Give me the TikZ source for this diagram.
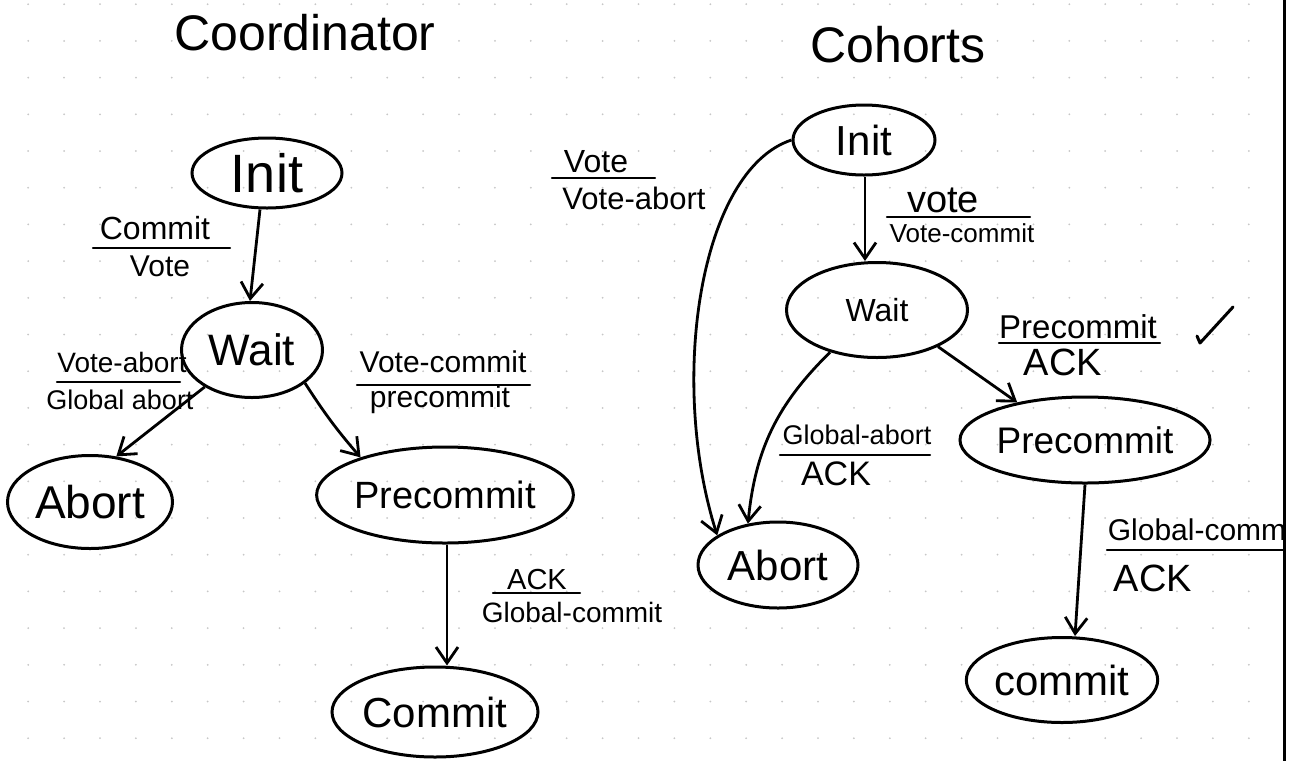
\documentclass[tikz,border=0pt]{standalone}
\usepackage{fontspec}
\setmainfont{Liberation Sans}
\usetikzlibrary{shapes.geometric,arrows.meta}
\newcommand{\setfs}[1]{\fontsize{#1pt}{#1pt}\selectfont}
\begin{document}
\begin{tikzpicture}[x=0.5pt,y=-0.5pt,
  state/.style={ellipse, draw, line width=1.5pt, inner sep=0pt},
  arr/.style={line width=1.4pt, -{Straight Barb[length=8pt,width=11pt,line width=1.4pt]}},
  lbl/.style={inner sep=0pt},
  bar/.style={line width=1.2pt, line cap=round},
  ttl/.style={inner sep=0pt, font=\setfs{25}},
  dot/.style={black!22}]
\useasboundingbox (0,0) rectangle (1300,761);
\fill[white] (0,0) rectangle (1300,761);
% paper dots
\foreach \i in {0,...,34} {\foreach \j in {0,...,20} {\fill[dot] (28.2+35.9*\i, 4.2+36.7*\j) circle (0.5pt);}}
% page edge
\draw[line width=1.5pt] (1284,0) -- (1284,761);

% titles
\node[ttl] (tCoord) at (305,33) {Coordinator};
\node[ttl] (tCoh) at (898,45) {Cohorts};

% coordinator states
\node[state, minimum width=75pt, minimum height=35pt, font=\setfs{27}] (cInit) at (267,173) {Init};
\node[state, minimum width=70.5pt, minimum height=47.5pt, font=\setfs{22}] (cWait) at (252,350) {Wait};
\node[state, minimum width=82.5pt, minimum height=46.5pt, font=\setfs{23}] (cAbort) at (90,502) {Abort};
\node[state, minimum width=118pt, minimum height=48pt, font=\setfs{19}] (cPre) at (445,495) {Precommit};
\node[state, minimum width=103pt, minimum height=45pt, font=\setfs{21}] (cCommit) at (435,712) {Commit};

% coordinator transitions
\draw[arr] ([xshift=-3.5pt]cInit.south) -- ([xshift=-1pt]cWait.north);
\draw[arr] (cWait.218) -- (cAbort.60);
\draw[arr] (cWait.328) to[bend right=4] (cPre.156);
\draw[arr] ([xshift=1pt]cPre.south) -- ([xshift=6pt]cCommit.north);

% coordinator labels
\node[lbl, font=\setfs{16}] (l1a) at (155,228) {Commit};
\draw[bar] (93,248) -- (230,248);
\node[lbl, font=\setfs{15}] (l1b) at (160,266) {Vote};

\node[lbl, font=\setfs{14}] (l2a) at (122,362) {Vote-abort};
\draw[bar] (57,382) -- (180,382);
\node[lbl, font=\setfs{13.5}] (l2b) at (120,400) {Global abort};

\node[lbl, font=\setfs{15}] (l3a) at (443,362) {Vote-commit};
\draw[bar] (357,385) -- (530,385);
\node[lbl, font=\setfs{15}] (l3b) at (440,400) {precommit};

\node[lbl, font=\setfs{14.5}] (l4a) at (537,580) {ACK};
\draw[bar] (493,593) -- (580,593);
\node[lbl, font=\setfs{14}] (l4b) at (572,612) {Global-commit};

% cohort states
\node[state, minimum width=71pt, minimum height=35pt, font=\setfs{21}] (hInit) at (864,140) {Init};
\node[state, minimum width=90.5pt, minimum height=47.5pt, font=\setfs{16}] (hWait) at (877,310) {Wait};
\node[state, minimum width=112.5pt, minimum height=43pt, font=\setfs{18.5}] (hPre) at (1085,440) {Precommit};
\node[state, minimum width=80pt, minimum height=43pt, font=\setfs{21}] (hAbort) at (778,565) {Abort};
\node[state, minimum width=95.5pt, minimum height=42.5pt, font=\setfs{21}] (hCommit) at (1062,680) {commit};

% cohort transitions
\draw[arr] ([xshift=0.5pt]hInit.south) -- ([xshift=-6pt]hWait.north);
\draw[arr] (hInit.west) .. controls (700,170) and (668,380) .. (hAbort.154);
\draw[arr] (hWait.222) to[bend right=20] (hAbort.126);
\draw[arr] (hWait.329) -- (hPre.151);
\draw[arr] (hPre.south) -- ([xshift=6.5pt]hCommit.north);

% cohort labels
\node[lbl, font=\setfs{16}] (m1a) at (596,162) {Vote};
\draw[bar] (552,178) -- (655,178);
\node[lbl, font=\setfs{15.5}] (m1b) at (634,198) {Vote-abort};

\node[lbl, font=\setfs{19}] (m2a) at (943,200) {vote};
\draw[bar] (887,217) -- (1030,217);
\node[lbl, font=\setfs{13}] (m2b) at (962,233) {Vote-commit};

\node[lbl, font=\setfs{16.5}] (m3a) at (1078,327) {Precommit};
\draw[bar] (999,343) -- (1160,343);
\node[lbl, font=\setfs{19}] (m3b) at (1063,362) {ACK};

\node[lbl, font=\setfs{13.5}] (m4a) at (857,435) {Global-abort};
\draw[bar] (780,455) -- (930,455);
\node[lbl, font=\setfs{17}] (m4b) at (836,474) {ACK};

\node[lbl, font=\setfs{15}] (m5a) at (1197,530) {Global-comm};
\draw[bar] (1107,550) -- (1284,550);
\node[lbl, font=\setfs{19}] (m5b) at (1153,578) {ACK};

% check mark
\draw[line width=1.5pt, line cap=round, line join=round] (1197,336) -- (1200,343) -- (1233,307);
\end{tikzpicture}
\end{document}
